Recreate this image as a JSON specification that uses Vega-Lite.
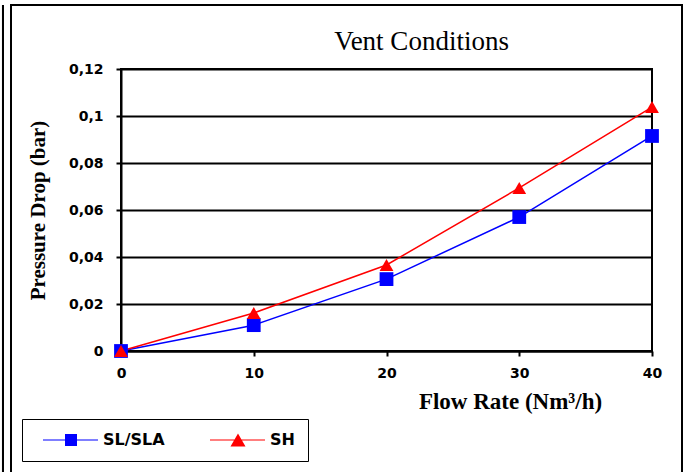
{
  "$schema": "https://vega.github.io/schema/vega-lite/v6.json",
  "width": 531,
  "height": 282,
  "autosize": {"type": "none"},
  "padding": {"left": 121, "top": 69, "right": 38, "bottom": 121},
  "background": "white",
  "title": {
    "text": "Vent Conditions",
    "font": "Liberation Serif",
    "fontSize": 27,
    "fontWeight": "normal",
    "color": "black",
    "anchor": "middle",
    "frame": "group",
    "dx": 35,
    "offset": -73,
    "baseline": "alphabetic"
  },
  "config": {
    "view": {"stroke": "black", "strokeWidth": 2},
    "axis": {
      "domainColor": "black",
      "domainWidth": 2,
      "tickColor": "black",
      "tickWidth": 2,
      "tickSize": 5,
      "labelFont": "DejaVu Sans",
      "labelFontWeight": "bold",
      "labelFontSize": 14,
      "labelColor": "black",
      "titleFont": "Liberation Serif",
      "titleFontWeight": "bold",
      "titleFontSize": 21,
      "titleColor": "black"
    }
  },
  "datasets": {
    "pd": [
      {"series": "SL/SLA", "flow": 0, "dp": 0},
      {"series": "SL/SLA", "flow": 10, "dp": 0.011},
      {"series": "SL/SLA", "flow": 20, "dp": 0.0306},
      {"series": "SL/SLA", "flow": 30, "dp": 0.057},
      {"series": "SL/SLA", "flow": 40, "dp": 0.0915},
      {"series": "SH", "flow": 0, "dp": 0},
      {"series": "SH", "flow": 10, "dp": 0.0162},
      {"series": "SH", "flow": 20, "dp": 0.0366},
      {"series": "SH", "flow": 30, "dp": 0.0694},
      {"series": "SH", "flow": 40, "dp": 0.1038}
    ]
  },
  "data": {"name": "pd"},
  "layer": [
    {
      "mark": {"type": "line", "strokeWidth": 1.5},
      "encoding": {
        "x": {
          "field": "flow", "type": "quantitative",
          "scale": {"domain": [0, 40], "nice": false},
          "axis": {
            "title": "Flow Rate (Nm³/h)",
            "values": [0, 10, 20, 30, 40],
            "grid": false,
            "labelFlush": false,
            "labelOverlap": false,
            "labelPadding": 10,
            "titleFontSize": 23,
            "titleX": 389,
            "titleY": 57,
            "titleAlign": "center",
            "titleBaseline": "alphabetic"
          }
        },
        "y": {
          "field": "dp", "type": "quantitative",
          "scale": {"domain": [0, 0.12], "nice": false},
          "axis": {
            "title": "Pressure Drop (bar)",
            "values": [0, 0.02, 0.04, 0.06, 0.08, 0.1, 0.12],
            "grid": true,
            "gridColor": "black",
            "gridWidth": 2,
            "gridOpacity": 1,
            "labelFlush": false,
            "labelOverlap": false,
            "labelPadding": 13,
            "labelExpr": "replace(toString(datum.value), '.', ',')",
            "titleX": -83,
            "titleY": 141,
            "titleBaseline": "middle",
            "titleAlign": "center"
          }
        },
        "color": {
          "field": "series", "type": "nominal",
          "scale": {"domain": ["SL/SLA", "SH"], "range": ["#0000ff", "#ff0000"]},
          "legend": {
            "orient": "none",
            "legendX": -99,
            "legendY": 350,
            "direction": "horizontal",
            "title": null,
            "strokeColor": "black",
            "padding": 13,
            "symbolSize": 196,
            "symbolStrokeWidth": 0,
            "symbolOffset": 8,
            "labelOffset": 44,
            "columnPadding": 37,
            "labelFont": "DejaVu Sans",
            "labelFontWeight": "bold",
            "labelFontSize": 16,
            "labelColor": "black",
            "labelBaseline": "middle"
          }
        }
      }
    },
    {
      "mark": {"type": "point", "filled": true, "opacity": 1, "size": 0},
      "encoding": {
        "x": {"field": "flow", "type": "quantitative"},
        "y": {"field": "dp", "type": "quantitative"},
        "color": {"field": "series", "type": "nominal"},
        "shape": {
          "field": "series", "type": "nominal",
          "scale": {
            "domain": ["SL/SLA", "SH"],
            "range": [
              "M-1.143,-0.08H6.714V0.08H-1.143Z M2,-0.857H3.714V0.857H2Z",
              "M-1.143,-0.08H6.714V0.08H-1.143Z M2.857,-0.93L3.929,0.93H1.786Z"
            ]
          }
        }
      }
    },
    {
      "transform": [{"filter": "datum.series === 'SL/SLA'"}],
      "mark": {"type": "point", "filled": true, "opacity": 1, "size": 190, "shape": "square"},
      "encoding": {
        "x": {"field": "flow", "type": "quantitative"},
        "y": {"field": "dp", "type": "quantitative"},
        "color": {"field": "series", "type": "nominal"}
      }
    },
    {
      "transform": [{"filter": "datum.series === 'SH'"}],
      "mark": {"type": "point", "filled": true, "opacity": 1, "size": 190, "shape": "triangle-up"},
      "encoding": {
        "x": {"field": "flow", "type": "quantitative"},
        "y": {"field": "dp", "type": "quantitative"},
        "color": {"field": "series", "type": "nominal"}
      }
    },
    {
      "mark": {"type": "rect", "fill": null, "stroke": "black", "strokeWidth": 2, "clip": false},
      "encoding": {
        "x": {"datum": -8.286, "type": "quantitative", "axis": {"title": "Flow Rate (Nm³/h)"}},
        "x2": {"datum": 42.26},
        "y": {"datum": 0.14723, "type": "quantitative", "axis": {"title": "Pressure Drop (bar)"}},
        "y2": {"datum": -0.06}
      }
    },
    {
      "mark": {"type": "rule", "stroke": "black", "strokeWidth": 2, "clip": false},
      "encoding": {
        "x": {"datum": -8.889, "type": "quantitative", "axis": {"title": "Flow Rate (Nm³/h)"}},
        "y": {"datum": 0.14723, "type": "quantitative", "axis": {"title": "Pressure Drop (bar)"}},
        "y2": {"datum": -0.06}
      }
    }
  ]
}
